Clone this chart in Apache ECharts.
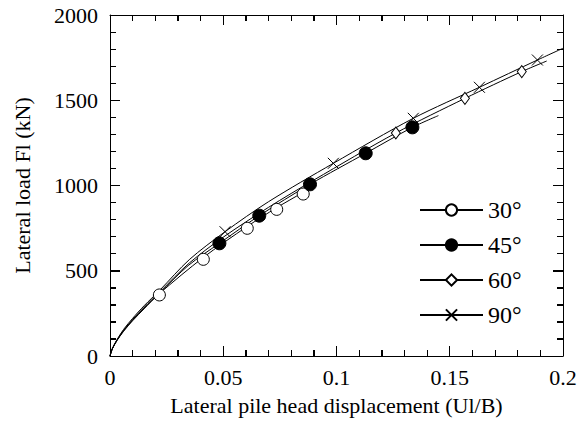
<!DOCTYPE html>
<html>
<head>
<meta charset="utf-8">
<script src="https://cdn.jsdelivr.net/npm/echarts@6/dist/echarts.min.js"></script>
<style>
html,body{margin:0;padding:0;background:#fff;}
#chart{width:580px;height:426px;}
</style>
</head>
<body>
<div id="chart"></div>
<script>
// ---- data ----
var seriesNames = ['30°', '45°', '60°', '90°'];

// smooth curves (displacement Ul/B, load kN)
var curve30 = [[0,0],[0.001,41],[0.003,89],[0.006,145],[0.01,207],[0.015,276],[0.0218,366],[0.0412,578],[0.0606,760],[0.0736,870],[0.0853,960],[0.089,988]];
var curve45 = [[0,0],[0.001,41],[0.003,90],[0.006,148],[0.01,211],[0.015,281],[0.022,370],[0.0345,530],[0.0483,661],[0.0659,823],[0.0883,1007],[0.1129,1189],[0.1335,1341],[0.145,1410]];
var curve60 = [[0,0],[0.001,42],[0.003,91],[0.006,150],[0.01,214],[0.015,285],[0.022,376],[0.035,545],[0.05,697],[0.07,872],[0.09,1032],[0.1262,1308],[0.1567,1511],[0.1818,1668],[0.1928,1730]];
var curve90 = [[0,0],[0.001,43],[0.003,94],[0.006,156],[0.01,221],[0.015,294],[0.022,386],[0.035,565],[0.0508,729],[0.07,905],[0.0986,1130],[0.1339,1394],[0.1631,1576],[0.1887,1736],[0.2,1805]];

// plotted markers
var marks30 = [[0.0218,358],[0.0412,567],[0.0606,749],[0.0736,860],[0.0853,950]];
var marks45 = [[0.0483,661],[0.0659,823],[0.0883,1007],[0.1129,1189],[0.1335,1341]];
var marks60 = [[0.1262,1308],[0.1567,1511],[0.1818,1668]];
var marks90 = [[0.0508,729],[0.0986,1130],[0.1339,1394],[0.1631,1576],[0.1887,1736]];

// axis settings
var xTickLabels = ['0', '0.05', '0.1', '0.15', '0.2'];
var yTickLabels = ['0', '500', '1000', '1500', '2000'];
// frame tick positions (value, 1 = major / 0 = minor)
var xTicks = [[0.01,0],[0.02,0],[0.03,0],[0.04,0],[0.05,1],[0.06,0],[0.07,0],[0.08,0],[0.09,0],[0.1,1],
              [0.11,0],[0.12,0],[0.13,0],[0.14,0],[0.15,1],[0.16,0],[0.17,0],[0.18,0],[0.19,0]];
var yTicks = [[100,0],[200,0],[300,0],[400,0],[500,1],[600,0],[700,0],[800,0],[900,0],[1000,1],
              [1100,0],[1200,0],[1300,0],[1400,0],[1500,1],[1600,0],[1700,0],[1800,0],[1900,0]];

var FONT = 'Liberation Serif';
var crossPath = 'path://M0,0L10,10M10,0L0,10';
var X_MIN = 0, X_MAX = 0.2, Y_MIN = 0, Y_MAX = 2000;
var MAJOR_LEN = 10, MINOR_LEN = 6; // px

var symbols = {
  '30°': {symbol: 'circle', size: 12, color: '#fff'},
  '45°': {symbol: 'circle', size: 13, color: '#000'},
  '60°': {symbol: 'diamond', size: [9, 12], color: '#fff'},
  '90°': {symbol: crossPath, size: 11, color: 'none'}
};
var curves = {'30°': curve30, '45°': curve45, '60°': curve60, '90°': curve90};
var marks = {'30°': marks30, '45°': marks45, '60°': marks60, '90°': marks90};

var series = [];
seriesNames.forEach(function (n) {
  var s = symbols[n];
  series.push({
    name: n, type: 'line', data: curves[n], smooth: 0.3,
    showSymbol: false, symbol: s.symbol, symbolSize: s.size,
    lineStyle: {color: '#000', width: 1},
    itemStyle: {color: s.color, borderColor: '#000', borderWidth: 1},
    xAxisIndex: 0, yAxisIndex: 0, z: 2
  });
});
seriesNames.forEach(function (n) {
  var s = symbols[n];
  series.push({
    name: n + ' pts', type: 'scatter', data: marks[n],
    symbol: s.symbol, symbolSize: s.size,
    itemStyle: {color: s.color, borderColor: '#000', borderWidth: 1, opacity: 1},
    xAxisIndex: 0, yAxisIndex: 0, z: 3
  });
});

function xAxisCfg(pos, labels) {
  return {
    type: 'value', position: pos, min: X_MIN, max: X_MAX, interval: 0.05,
    axisLine: {show: true, onZero: false, lineStyle: {color: '#000', width: 1}},
    axisTick: {show: true, inside: true, length: MAJOR_LEN, lineStyle: {color: '#000', width: 1}},
    minorTick: {show: true, splitNumber: 5, length: MINOR_LEN, lineStyle: {color: '#000', width: 1}},
    splitLine: {show: false},
    axisLabel: {show: labels, color: '#000', fontFamily: FONT, fontSize: 22, margin: 10,
      formatter: function (v) { return xTickLabels[Math.round(v / 0.05)]; }},
    name: labels ? 'Lateral pile head displacement (Ul/B)' : '',
    nameLocation: 'middle', nameGap: 38,
    nameTextStyle: {color: '#000', fontFamily: FONT, fontSize: 22}
  };
}
function yAxisCfg(pos, labels) {
  return {
    type: 'value', position: pos, min: Y_MIN, max: Y_MAX, interval: 500,
    axisLine: {show: true, onZero: false, lineStyle: {color: '#000', width: 1}},
    axisTick: {show: true, inside: true, length: MAJOR_LEN, lineStyle: {color: '#000', width: 1}},
    minorTick: {show: true, splitNumber: 5, length: MINOR_LEN, lineStyle: {color: '#000', width: 1}},
    splitLine: {show: false},
    axisLabel: {show: labels, color: '#000', fontFamily: FONT, fontSize: 22, margin: 12,
      formatter: function (v) { return yTickLabels[Math.round(v / 500)]; }},
    name: labels ? 'Lateral load Fl (kN)' : '',
    nameLocation: 'middle', nameGap: 77, nameRotate: 90,
    nameTextStyle: {color: '#000', fontFamily: FONT, fontSize: 22}
  };
}

var chart = echarts.init(document.getElementById('chart'), null, {renderer: 'svg'});
chart.setOption({
  animation: false,
  backgroundColor: '#fff',
  textStyle: {fontFamily: FONT},
  grid: {show: false, left: 110, right: 17, top: 15, bottom: 70, containLabel: false},
  xAxis: [xAxisCfg('bottom', true), xAxisCfg('top', false)],
  yAxis: [yAxisCfg('left', true), yAxisCfg('right', false)],
  legend: {
    data: seriesNames, orient: 'vertical', left: 414, top: 193,
    itemWidth: 63, itemHeight: 14, itemGap: 11,
    textStyle: {color: '#000', fontFamily: FONT, fontSize: 24},
    selectedMode: false
  },
  series: series
});

// inward frame ticks, positioned through the chart's own axis scales
function px(v) { return chart.convertToPixel({xAxisIndex: 0, yAxisIndex: 0}, v); }
function crisp(v) { return Math.round(v - 0.5) + 0.5; }
var tickEls = [];
var tickStyle = {stroke: '#000', lineWidth: 1, fill: null};
xTicks.forEach(function (t) {
  var len = t[1] ? MAJOR_LEN : MINOR_LEN;
  var b = px([t[0], Y_MIN]), top = px([t[0], Y_MAX]);
  var x = crisp(b[0]);
  tickEls.push({type: 'line', z: 100, silent: true, shape: {x1: x, y1: b[1], x2: x, y2: b[1] - len}, style: tickStyle});
  tickEls.push({type: 'line', z: 100, silent: true, shape: {x1: x, y1: top[1], x2: x, y2: top[1] + len}, style: tickStyle});
});
yTicks.forEach(function (t) {
  var len = t[1] ? MAJOR_LEN : MINOR_LEN;
  var l = px([X_MIN, t[0]]), r = px([X_MAX, t[0]]);
  var y = crisp(l[1]);
  tickEls.push({type: 'line', z: 100, silent: true, shape: {x1: l[0], y1: y, x2: l[0] + len, y2: y}, style: tickStyle});
  tickEls.push({type: 'line', z: 100, silent: true, shape: {x1: r[0], y1: y, x2: r[0] - len, y2: y}, style: tickStyle});
});
chart.setOption({graphic: {elements: tickEls}});
</script>
</body>
</html>
